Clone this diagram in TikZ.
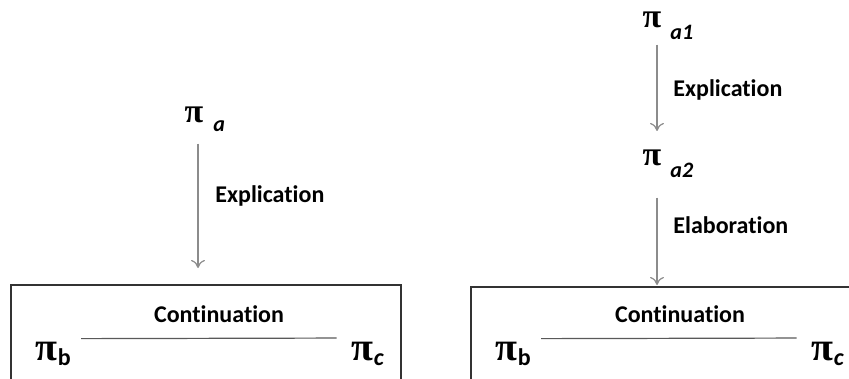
\documentclass[tikz,border=0pt]{standalone}
\usepackage{amsmath,amssymb}
\usepackage{fontspec}
\setmainfont[Ligatures=NoCommon]{Carlito}
\newfontfamily\pifont{Liberation Serif}
\usetikzlibrary{arrows.meta,positioning}

\newcommand{\segpi}{{\pifont\bfseries\fontsize{17}{17}\selectfont π}}
\newcommand{\bigsegpi}{{\pifont\bfseries\fontsize{20}{20}\selectfont π}}

\begin{document}
\begin{tikzpicture}[x=0.5pt,y=-0.5pt,
    rel/.style={font=\bfseries\fontsize{12}{14}\selectfont, inner sep=0pt},
    seg/.style={inner sep=0pt, anchor=base},
    sub/.style={inner sep=0pt, anchor=base west, font=\bfseries\itshape\fontsize{11}{12}\selectfont},
    bsub/.style={sub, font=\bfseries\fontsize{12}{12}\selectfont, yshift=-2.5pt},
    link/.style={draw=black!45, line width=0.6pt, -{To[length=4pt,width=7pt]}},
    frame/.style={draw=black!80, line width=0.6pt},
    contline/.style={draw=black!65, line width=0.6pt}]
    \useasboundingbox (0,0) rectangle (849,379);
    \clip (0,0) rectangle (849,379);
    % Left diagram
    \node (pia) [seg] at (194,123) {\segpi};
    \node (piasub) [sub] at (213,132) {a};
    \node (explL) [rel, anchor=base west] at (215,202) {Explication};
    \draw[frame] (11,400) -- (11,285) -- (401,285) -- (401,400);
    \coordinate (boxLtop) at (198,268);
    \draw[link, shorten <=10pt] ([xshift=2pt]pia.south) -- (boxLtop);
    \node (contL) [rel, anchor=base] at (219,322) {Continuation};
    \node (pibL) [seg] at (46,360) {\bigsegpi};
    \node (pibLsub) [bsub] at (pibL.base east) {b};
    \node (picL) [seg] at (362,360) {\bigsegpi};
    \node (picLsub) [bsub, font=\bfseries\itshape\fontsize{12}{12}\selectfont] at (picL.base east) {c};
    \draw[contline, shorten <=5pt, shorten >=7pt] ([yshift=9pt]pibLsub.east) -- ([yshift=6.5pt]picL.west);
    % Right diagram
    \node (pia1) [seg] at (652,28) {\segpi};
    \node (pia1sub) [sub] at (670,40) {a1};
    \node (explR) [rel, anchor=base west] at (673,97) {Explication};
    \node (pia2) [seg] at (652,165) {\segpi};
    \node (pia2sub) [sub] at (670,177) {a2};
    \node (elabR) [rel, anchor=base west] at (673,233) {Elaboration};
    \draw[link, shorten <=8pt, shorten >=9pt] ([xshift=2.5pt]pia1.south) -- ([xshift=2.5pt]pia2.north);
    \coordinate (boxRtop) at (657,285);
    \draw[link, shorten <=16pt] ([xshift=2.5pt]pia2.south) -- (boxRtop);
    \draw[frame] (471,400) -- (471,287) -- (900,287);
    \node (contR) [rel, anchor=base] at (680,322) {Continuation};
    \node (pibR) [seg] at (506,360) {\bigsegpi};
    \node (pibRsub) [bsub] at (pibR.base east) {b};
    \node (picR) [seg] at (822,360) {\bigsegpi};
    \node (picRsub) [bsub, font=\bfseries\itshape\fontsize{12}{12}\selectfont] at (picR.base east) {c};
    \draw[contline, shorten <=5pt, shorten >=7pt] ([yshift=9pt]pibRsub.east) -- ([yshift=6.5pt]picR.west);
\end{tikzpicture}
\end{document}
